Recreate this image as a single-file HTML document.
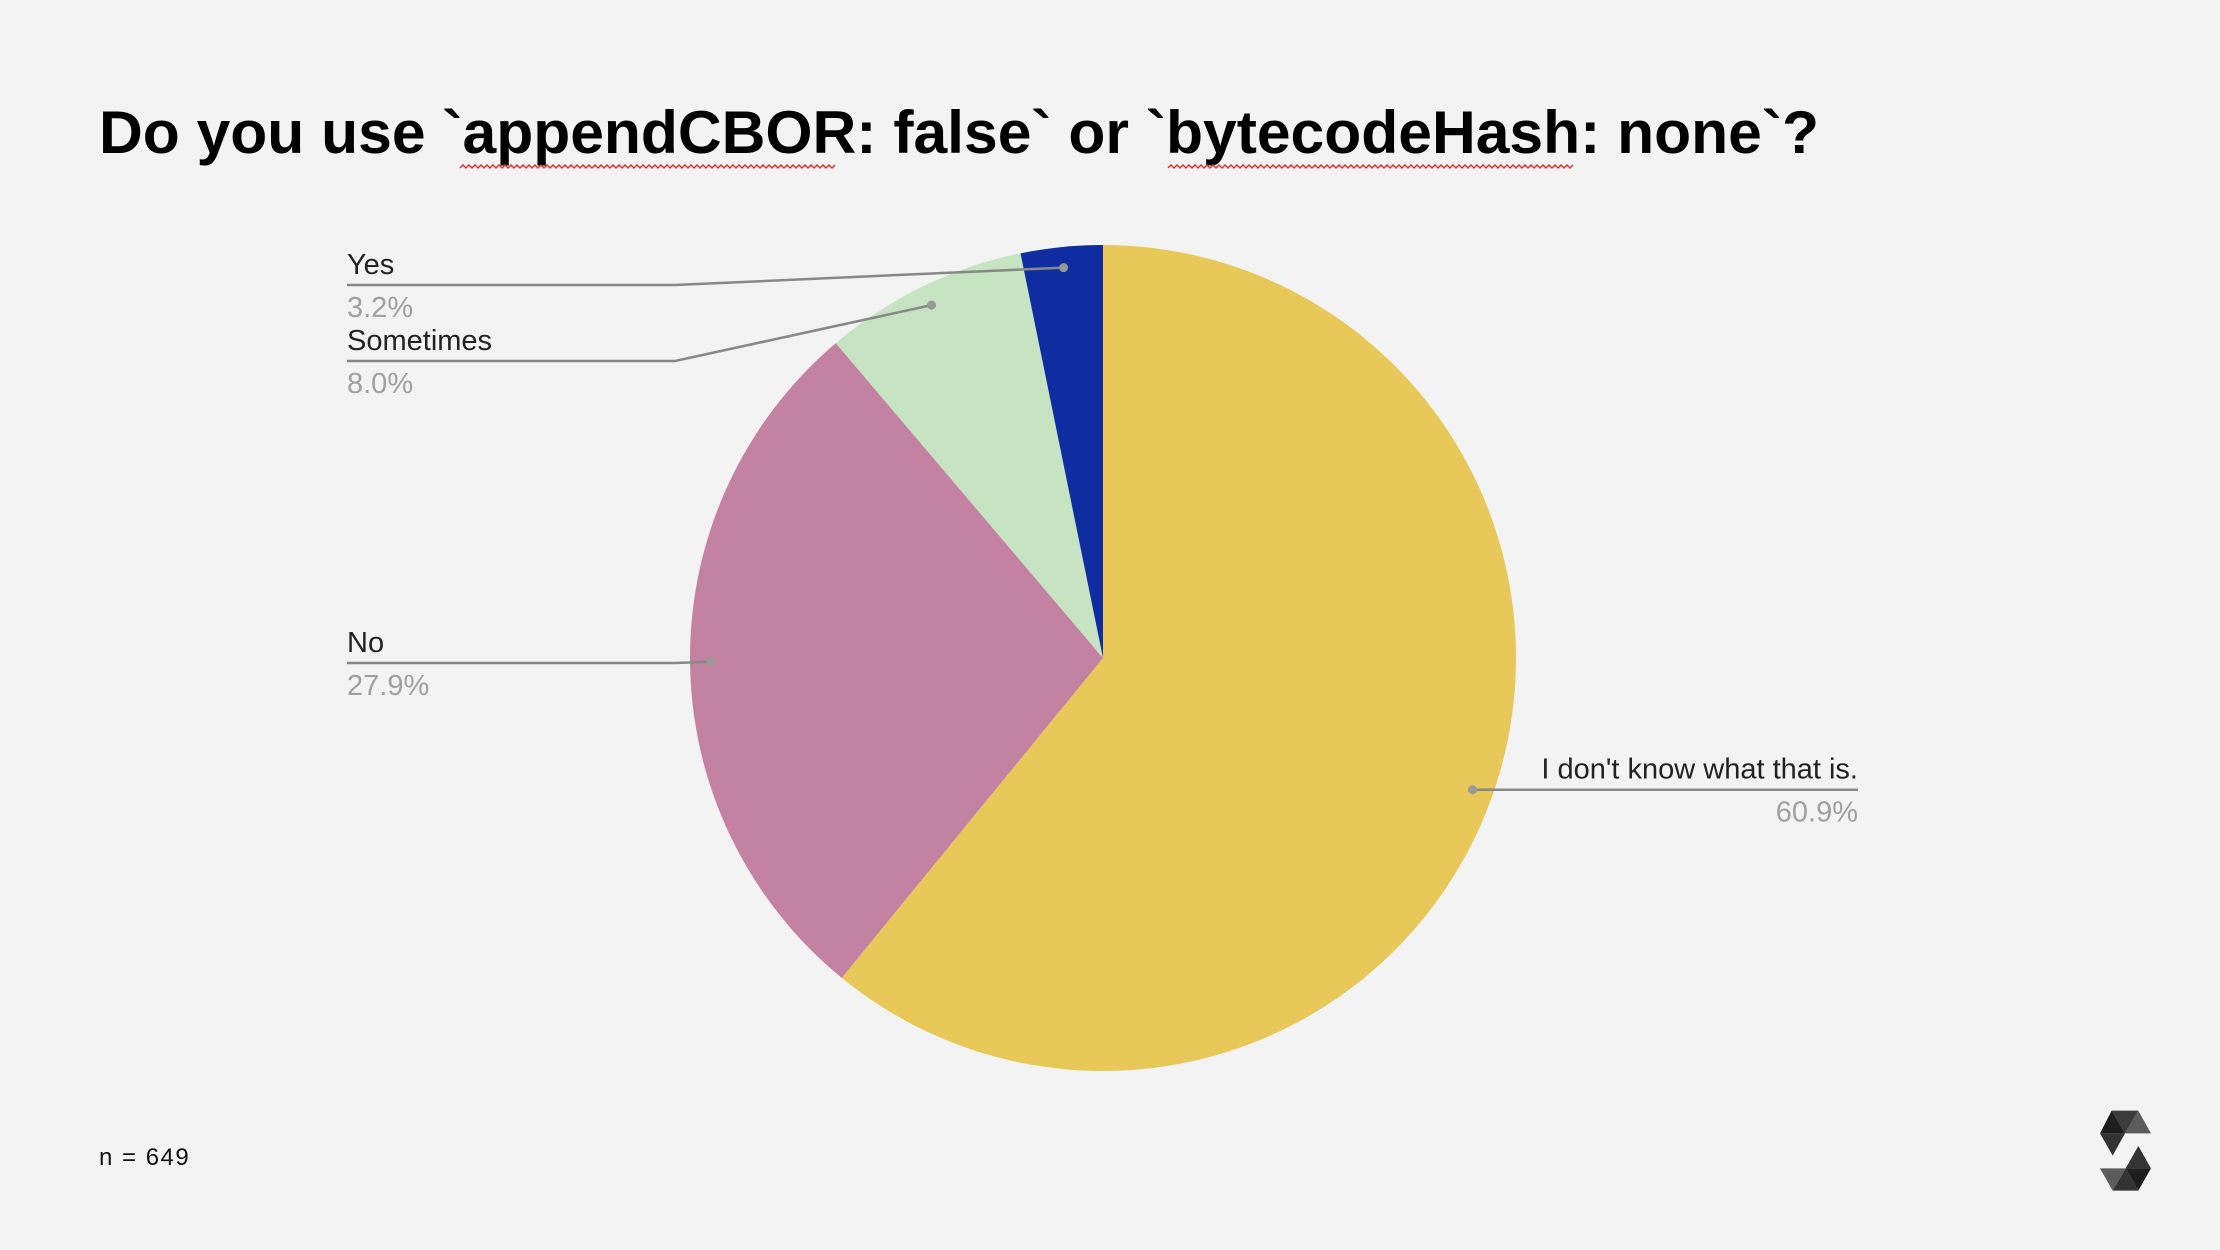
<!DOCTYPE html>
<html><head><meta charset="utf-8"><style>
html,body{margin:0;padding:0;background:#f3f3f3;}
svg{display:block;}
</style></head><body>
<svg id="chart" width="2220" height="1250" viewBox="0 0 2220 1250" xmlns="http://www.w3.org/2000/svg">
<rect width="2220" height="1250" fill="#f3f3f3"/>
<text x="99" y="153" font-family="Liberation Sans, sans-serif" font-weight="900" font-size="60" fill="#000" textLength="1720" lengthAdjust="spacingAndGlyphs">Do you use `appendCBOR: false` or `bytecodeHash: none`?</text>
<path id="sq1" fill="none" stroke="#e03030" stroke-width="1.5"/>
<path id="sq2" fill="none" stroke="#e03030" stroke-width="1.5"/>
<g id="slices"></g>
<g id="labels"></g>
<text x="99" y="1165" font-family="Liberation Sans, sans-serif" font-size="24" letter-spacing="1.5" fill="#111">n = 649</text>
<g transform="translate(2060,1090) scale(0.3333)">
<polygon points="155,62 235,62 195,130" fill="#3b3b3b"/>
<polygon points="120,130 155,62 195,130" fill="#1e1e1e"/>
<polygon points="195,130 235,62 273,130" fill="#5c5c5c"/>
<polygon points="120,130 195,130 158,197" fill="#333"/>
<polygon points="273,235 235,168 197,235" fill="#333"/>
<polygon points="273,235 197,235 235,302" fill="#1e1e1e"/>
<polygon points="120,235 197,235 158,302" fill="#5c5c5c"/>
<polygon points="158,302 197,235 235,302" fill="#333"/>
</g>
</svg>
<script>
const categories = ["I don't know what that is.", "No", "Sometimes", "Yes"];
const values = [60.9, 27.9, 8.0, 3.2];
const valueLabels = ["60.9%", "27.9%", "8.0%", "3.2%"];
const colors = ["#e8c858", "#c482a3", "#c6e3c2", "#0f2ca0"];

const NS = "http://www.w3.org/2000/svg";
const cx = 1103, cy = 658, R = 413;
function pt(frac, r) {
  const a = frac * 2 * Math.PI;
  return [cx + r * Math.sin(a), cy - r * Math.cos(a)];
}
const total = values.reduce((a, b) => a + b, 0);
const sg = document.getElementById('slices');
const lg = document.getElementById('labels');
let acc = 0;
values.forEach((v, i) => {
  const f0 = acc / total, f1 = (acc + v) / total;
  acc += v;
  const p0 = pt(f0, R), p1 = pt(f1, R);
  const large = (f1 - f0) > 0.5 ? 1 : 0;
  const path = document.createElementNS(NS, 'path');
  path.setAttribute('d', `M${cx},${cy} L${p0[0]},${p0[1]} A${R},${R} 0 ${large} 1 ${p1[0]},${p1[1]} Z`);
  path.setAttribute('fill', colors[i]);
  
  
  sg.appendChild(path);

  const fm = (f0 + f1) / 2;
  const d = pt(fm, R * 0.95);
  const right = d[0] > cx;
  let lineY, textX, anchor, elbowX, endX;
  if (right) {
    lineY = d[1]; elbowX = d[0]; endX = 1858; textX = 1858; anchor = 'end';
  } else {
    const slotY = { 'No': 663, 'Sometimes': 361, 'Yes': 285 }[categories[i]] || d[1];
    lineY = slotY; elbowX = 675; endX = 347; textX = 347; anchor = 'start';
  }
  const line = document.createElementNS(NS, 'polyline');
  line.setAttribute('points', `${d[0]},${d[1]} ${elbowX},${lineY} ${endX},${lineY}`);
  line.setAttribute('fill', 'none');
  line.setAttribute('stroke', '#888');
  line.setAttribute('stroke-width', '2.5');
  
  
  lg.appendChild(line);
  const dot = document.createElementNS(NS, 'circle');
  dot.setAttribute('cx', d[0]); dot.setAttribute('cy', d[1]); dot.setAttribute('r', '4.5');
  dot.setAttribute('fill', '#999');
  
  
  lg.appendChild(dot);
  const t1 = document.createElementNS(NS, 'text');
  t1.setAttribute('x', textX); t1.setAttribute('y', lineY - 11);
  t1.setAttribute('text-anchor', anchor);
  t1.setAttribute('font-family', 'Liberation Sans, sans-serif');
  t1.setAttribute('font-size', '29'); t1.setAttribute('fill', '#222');
  t1.textContent = categories[i];
  
  
  lg.appendChild(t1);
  const t2 = document.createElementNS(NS, 'text');
  t2.setAttribute('x', textX); t2.setAttribute('y', lineY + 32);
  t2.setAttribute('text-anchor', anchor);
  t2.setAttribute('font-family', 'Liberation Sans, sans-serif');
  t2.setAttribute('font-size', '29'); t2.setAttribute('fill', '#a0a0a0');
  t2.textContent = valueLabels[i];
  
  
  lg.appendChild(t2);
});
function squiggle(id, x0, x1, y) {
  let d = `M${x0},${y}`, up = true;
  for (let x = x0 + 3; x <= x1; x += 3) { d += ` L${x},${up ? y - 3 : y}`; up = !up; }
  document.getElementById(id).setAttribute('d', d);
}
squiggle('sq1', 460, 835, 168);
squiggle('sq2', 1168, 1574, 168);
</script>
</body></html>
